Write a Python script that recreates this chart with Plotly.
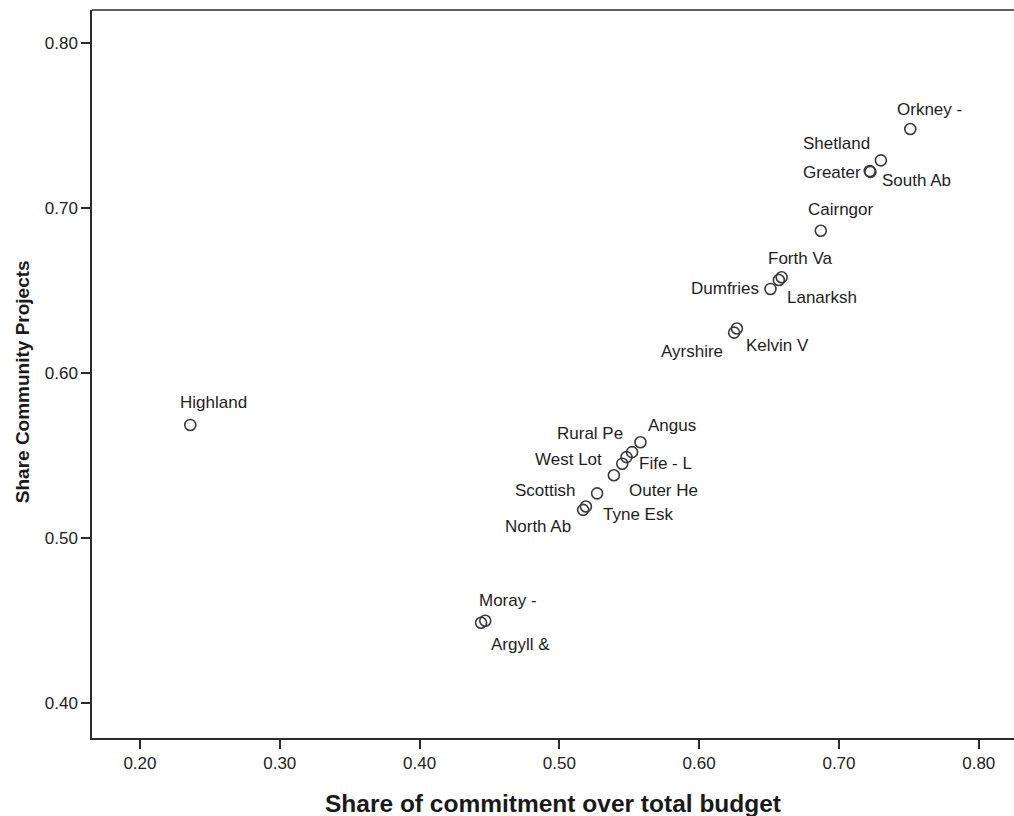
import plotly.graph_objects as go

# Local action groups: share of commitment vs share of community projects
groups = ["Highland", "Moray -", "Argyll &", "North Ab", "Tyne Esk", "Scottish",
          "Outer He", "Fife - L", "West Lot", "Rural Pe", "Angus", "Ayrshire",
          "Kelvin V", "Dumfries", "Lanarksh", "Forth Va", "Cairngor", "Greater",
          "South Ab", "Shetland", "Orkney -"]
commitment_share = [0.236, 0.447, 0.444, 0.517, 0.519, 0.527,
                    0.539, 0.545, 0.548, 0.552, 0.558, 0.625,
                    0.627, 0.651, 0.657, 0.659, 0.687, 0.722,
                    0.7225, 0.730, 0.751]
community_share = [0.5685, 0.4497, 0.4485, 0.517, 0.519, 0.527,
                   0.538, 0.545, 0.549, 0.552, 0.558, 0.6245,
                   0.627, 0.651, 0.6564, 0.6581, 0.6863, 0.7225,
                   0.722, 0.729, 0.748]

# pixel offsets of each label's centre from its marker (right, down)
label_offsets = {
    "Highland": (23, -22), "Moray -": (23, -20), "Argyll &": (39, 22),
    "North Ab": (-45, 17), "Tyne Esk": (52, 8), "Scottish": (-52, -3),
    "Outer He": (50, 15), "Fife - L": (43, 0), "West Lot": (-58, 2),
    "Rural Pe": (-42, -19), "Angus": (32, -17), "Ayrshire": (-42, 19),
    "Kelvin V": (41, 17), "Dumfries": (-45, 0), "Lanarksh": (43, 17),
    "Forth Va": (18, -19), "Cairngor": (20, -21), "Greater": (-38, 1),
    "South Ab": (46, 9), "Shetland": (-44, -17), "Orkney -": (19, -20),
}

x_ticks = [0.20, 0.30, 0.40, 0.50, 0.60, 0.70, 0.80]
y_ticks = [0.40, 0.50, 0.60, 0.70, 0.80]

FONT = "Liberation Sans, Arial, sans-serif"
INK = "#2b2b2b"

fig = go.Figure()
fig.add_trace(go.Scatter(
    x=commitment_share, y=community_share, mode="markers",
    marker=dict(symbol="circle-open", size=11, color="#3a3a3a",
                line=dict(width=1.6, color="#3a3a3a")),
    hoverinfo="text", text=groups, showlegend=False,
))

annotations = []
for name, xv, yv in zip(groups, commitment_share, community_share):
    dx, dy = label_offsets[name]
    annotations.append(dict(
        x=xv, y=yv, xref="x", yref="y", text=name, showarrow=False,
        xanchor="center", yanchor="middle", xshift=dx, yshift=-dy,
        font=dict(family=FONT, size=17, color="#1e1e1e"),
    ))

annotations.append(dict(
    text="<b>Share of commitment over total budget</b>", xref="paper", yref="paper",
    x=0.5, y=-0.09, xanchor="center", yanchor="middle", showarrow=False,
    font=dict(family=FONT, size=24.5, color="#1a1a1a"),
))
annotations.append(dict(
    text="<b>Share Community Projects</b>", xref="paper", yref="paper",
    x=-0.076, y=0.49, xanchor="center", yanchor="middle", showarrow=False,
    textangle=-90, font=dict(family=FONT, size=19, color="#1a1a1a"),
))

fig.update_layout(
    width=1014, height=816,
    margin=dict(l=92, r=0, t=10, b=78),
    paper_bgcolor="white", plot_bgcolor="white",
    annotations=annotations,
    shapes=[dict(type="line", xref="paper", yref="paper", x0=0, x1=1, y0=1, y1=1,
                 line=dict(color=INK, width=1.5))],
)
fig.update_xaxes(
    range=[0.1657, 0.8252], tickvals=x_ticks, tickformat=".2f",
    showgrid=False, zeroline=False, showline=True, linecolor=INK, linewidth=1.5,
    ticks="outside", ticklen=9, tickwidth=1.5, tickcolor=INK,
    tickfont=dict(family=FONT, size=17, color="#222"),
)
fig.update_yaxes(
    range=[0.3786, 0.8202], tickvals=y_ticks, tickformat=".2f",
    showgrid=False, zeroline=False, showline=True, linecolor=INK, linewidth=1.5,
    ticks="outside", ticklen=9, tickwidth=1.5, tickcolor=INK,
    tickfont=dict(family=FONT, size=17, color="#222"),
)

fig.write_html("out.html")
